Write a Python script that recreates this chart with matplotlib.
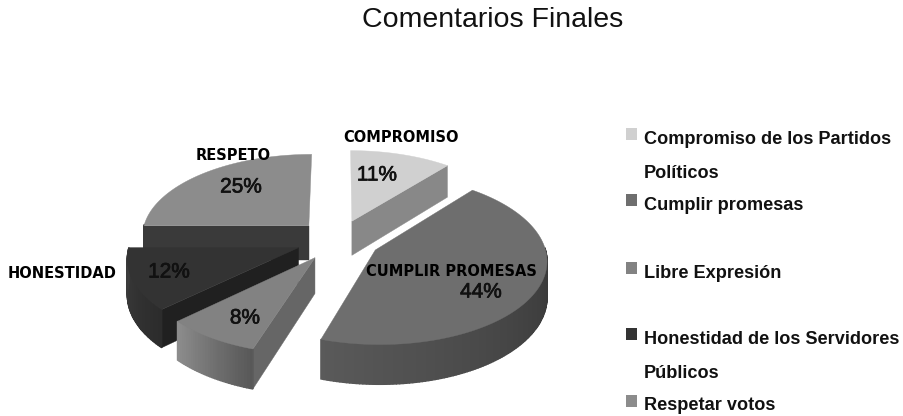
import numpy as np
from matplotlib import pyplot as plt
from matplotlib import patheffects as pe
from matplotlib.colors import to_rgb
from matplotlib.patches import Rectangle

title = "Comentarios Finales"
categories = ["Compromiso de los Partidos\nPolíticos", "Cumplir promesas", "Libre Expresión",
              "Honestidad de los Servidores\nPúblicos", "Respetar votos"]
values = [11, 44, 8, 12, 25]
top_colors = ["#d0d0d0", "#6e6e6e", "#828282", "#333333", "#8c8c8c"]
wall_colors = ["#888888", "#6e6e6e", "#666666", "#202020", "#3a3a3a"]
rim_left = ["#888888", "#5a5a5a", "#8e8e8e", "#3c3c3c", "#3a3a3a"]
rim_right = ["#888888", "#262626", "#585858", "#2c2c2c", "#3a3a3a"]
slice_names = ["COMPROMISO", "CUMPLIR PROMESAS", None, "HONESTIDAD", "RESPETO"]
name_pos = [(401, 137), (451, 272), None, (62, 274), (233, 156)]
pct_pos = [(377, 175), (481, 292), (245, 318), (169, 272), (241, 187)]
legend_y = [134, 200, 268, 334, 401]
line_y = [[140, 173], [205], [273], [340, 373], [406]]

CX, CY = 338, 240
A, B, K = 168, 82, 0.108
DEPTH = 35
EXPLODE = 0.25


def project(x, y, z=0.0):
    d = 1 + K * y
    return CX + A * x / d, CY - B * y / d + DEPTH * z / d


def draw_slice(ax, i, start, end):
    mid = np.radians((start + end) / 2)
    ox, oy = EXPLODE * np.sin(mid), EXPLODE * np.cos(mid)
    th = np.radians(np.linspace(start, end, int(end - start) + 2))
    rx, ry = ox + np.sin(th), oy + np.cos(th)

    # radial walls facing the viewer
    for ang, sign in ((start, 1), (end, -1)):
        t = np.radians(ang)
        if sign * np.sin(t) < -1e-6:
            ex, ey = ox + np.sin(t), oy + np.cos(t)
            pts = [project(ox, oy), project(ex, ey), project(ex, ey, 1), project(ox, oy, 1)]
            ax.fill(*zip(*pts), color=wall_colors[i], lw=0.3, zorder=draw_order[i])

    # outer rim, only the part turned to the front
    c0, c1 = np.array(to_rgb(rim_right[i])), np.array(to_rgb(rim_left[i]))
    for j in range(len(th) - 1):
        if np.cos((th[j] + th[j + 1]) / 2) > 0.02:
            continue
        pts = [project(rx[j], ry[j]), project(rx[j + 1], ry[j + 1]),
               project(rx[j + 1], ry[j + 1], 1), project(rx[j], ry[j], 1)]
        local = (th[j] - th[0]) / (th[-1] - th[0])
        ax.fill(*zip(*pts), color=tuple(c0 + (c1 - c0) * local), lw=1.0, zorder=draw_order[i])

    px, py = project(np.r_[ox, rx], np.r_[oy, ry])
    ax.fill(px, py, color=top_colors[i], lw=0.3, zorder=draw_order[i] + 0.5)


draw_order = {4: 1, 0: 2, 3: 3, 2: 4, 1: 5}

fig = plt.figure(figsize=(9.04, 4.16), dpi=100)
ax = fig.add_axes([0, 0, 1, 1])
ax.set_xlim(0, 904)
ax.set_ylim(416, 0)
ax.axis("off")

stops = np.r_[0, np.cumsum(values)] * 3.6
for i in range(len(values)):
    draw_slice(ax, i, stops[i], stops[i + 1])

ax.text(493, 20, title, ha="center", va="center", fontsize=20.5, family="Liberation Sans", color="#111111")

for v, pos in zip(values, pct_pos):
    ax.text(pos[0], pos[1], f"{v}%", ha="center", va="center", fontsize=15,
            family="Liberation Sans", color="#111111", zorder=10,
            path_effects=[pe.withStroke(linewidth=0.5, foreground="#111111")])
for name, pos in zip(slice_names, name_pos):
    if name:
        ax.text(pos[0], pos[1], name, ha="center", va="center", fontsize=10.5,
                family="DejaVu Sans", weight="bold", color="black", zorder=11)

for cat, col, y, ys in zip(categories, top_colors, legend_y, line_y):
    ax.add_patch(Rectangle((626, y - 6), 11, 12, color=col, lw=0))
    for part, ty in zip(cat.split("\n"), ys):
        ax.text(644, ty, part, ha="left", va="center", fontsize=13.1,
                family="Liberation Sans", weight="bold", color="#111111")

fig.savefig("out.png", dpi=100)
